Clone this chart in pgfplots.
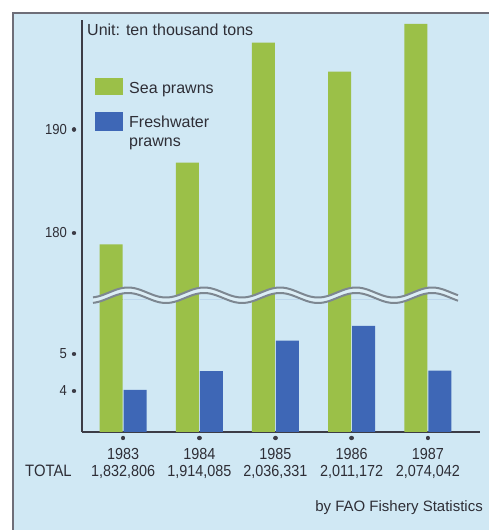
\documentclass[border=0pt]{standalone}
\usepackage{fontspec}
\setmainfont{Liberation Sans}
\newfontfamily\numfont{Liberation Sans}[FakeStretch=0.9]
\usepackage{pgfplots}
\usepackage{pgfplotstable}
\pgfplotsset{compat=1.18}

\definecolor{bgblue}{HTML}{D0E8F4}
\definecolor{seagreen}{HTML}{9BC048}
\definecolor{freshblue}{HTML}{3E67B6}
\definecolor{axisgray}{HTML}{3C3C46}
\definecolor{textgray}{HTML}{2E2E36}
\definecolor{framegray}{HTML}{6E6E78}
\definecolor{waveline}{HTML}{7D8791}
\definecolor{wavefill}{HTML}{DCEEF6}

% prawn catch, ten thousand tons
\pgfplotstableread{
year sea   fresh
1983 178.9 4.03
1984 186.8 4.54
1985 198.4 5.36
1986 195.6 5.76
1987 200.2 4.55
}\prawns

\pgfplotsset{
  prawnaxis/.style={
    scale only axis, width=398pt, anchor=south west,
    xmin=1982.46, xmax=1987.685,
    axis y line*=left,
    axis line style={draw=axisgray, line width=1.4pt},
    ybar, bar width=23pt,
    major tick length=0.01pt,
    ytick style={draw=axisgray, line width=4.4pt, line cap=round, xshift=-8pt},
    yticklabel style={font=\numfont\fontsize{14.5}{15}\selectfont, text=textgray,
      anchor=east, inner sep=0pt, xshift=-15pt},
    scaled y ticks=false,
  },
  seabar/.style={fill=seagreen, draw=none, bar shift=-12pt},
  freshbar/.style={fill=freshblue, draw=none, bar shift=12pt},
}

\begin{document}
\begin{tikzpicture}[x=1pt,y=1pt]
\useasboundingbox (0,0) rectangle (489,530);
\fill[white] (0,0) rectangle (489,530);
\fill[bgblue] (13,0) rectangle (489,517);
\draw[framegray, line width=1.5pt] (13,0) -- (13,517) -- (489,517);

% lower part of the broken value axis
\begin{axis}[prawnaxis, at={(82pt,98pt)}, height=132pt,
  ymin=2.892, ymax=6.459,
  axis x line*=bottom,
  xtick={1983,1984,1985,1986,1987},
  xticklabels={{1983\\1,832,806},{1984\\1,914,085},{1985\\2,036,331},{1986\\2,011,172},{1987\\2,074,042}},
  xtick style={draw=axisgray, line width=4.4pt, line cap=round, yshift=-6pt},
  xticklabel style={font=\numfont\fontsize{16}{17}\selectfont, text=textgray,
    align=center, anchor=north, inner sep=0pt, yshift=-16pt},
  ytick={4,5}, yticklabels={4,5},
]
\addplot[seabar] table[x=year, y=sea] {\prawns};
\addplot[freshbar] table[x=year, y=fresh] {\prawns};
\end{axis}

% upper part of the broken value axis
\begin{axis}[prawnaxis, at={(82pt,230pt)}, height=280pt,
  ymin=173.53, ymax=200.58,
  axis x line=none, xtick=\empty,
  ytick={180,190}, yticklabels={180,190},
]
\addplot[seabar] table[x=year, y=sea] {\prawns};
\addplot[freshbar] table[x=year, y=fresh] {\prawns};
\end{axis}

% axis break
\fill[wavefill]
  plot[domain=93:458, samples=150] (\x, {237.5+5*cos(4.7368*(\x-128))})
  -- plot[domain=458:93, samples=150] (\x, {232+5*cos(4.7368*(\x-128))}) -- cycle;
\draw[waveline, line width=2pt]
  plot[domain=93:458, samples=150] (\x, {237.5+5*cos(4.7368*(\x-128))});
\draw[waveline, line width=2pt]
  plot[domain=93:458, samples=150] (\x, {232+5*cos(4.7368*(\x-128))});

% unit and key
\node[anchor=base west, inner sep=0pt, text=textgray, font=\fontsize{16}{19}\selectfont]
  at (87,494) {Unit: ten thousand tons};
\fill[seagreen] (95,435) rectangle (123,452);
\node[anchor=base west, inner sep=0pt, text=textgray, font=\fontsize{16}{19}\selectfont]
  at (129,436) {Sea prawns};
\fill[freshblue] (95,399) rectangle (123,418);
\node[anchor=base west, inner sep=0pt, text=textgray, align=left, font=\fontsize{16}{19}\selectfont]
  at (129,383) {Freshwater\\prawns};

% totals row caption and source
\node[anchor=base west, inner sep=0pt, text=textgray, font=\numfont\fontsize{16.5}{17}\selectfont]
  at (25,53) {TOTAL};
\node[anchor=base east, inner sep=0pt, text=textgray, font=\fontsize{15}{17}\selectfont]
  at (483,19) {by FAO Fishery Statistics};
\end{tikzpicture}
\end{document}
